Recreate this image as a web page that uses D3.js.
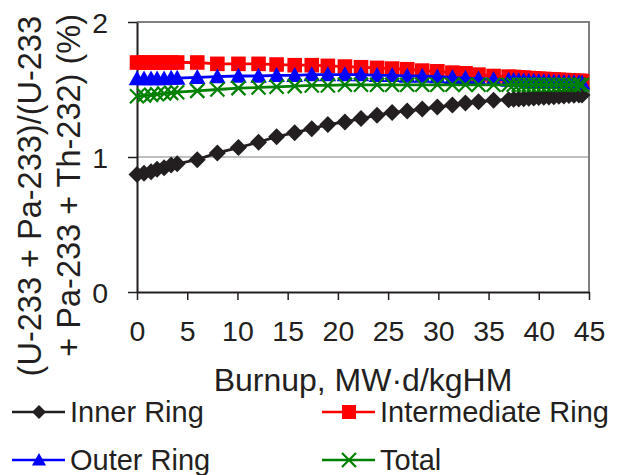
<!DOCTYPE html>
<html><head><meta charset="utf-8">
<script src="https://cdn.jsdelivr.net/npm/d3@7/dist/d3.min.js"></script>
<style>body{margin:0;background:#fff}svg{display:block}text{font-family:"Liberation Sans",Arial,sans-serif;fill:#231f20}</style>
</head><body><svg id="c" width="617" height="475"></svg>
<script>
const burnup = [0,0.7,1.4,2.0,2.7,3.4,4.0,6,8,10.1,12.1,13.9,15.7,17.4,19.0,20.7,22.3,23.9,25.4,26.9,28.4,29.9,31.4,32.7,34.0,35.5,
  37,37.5,38,38.5,39,39.5,40,40.5,41,41.5,42,42.5,43,43.5,44,44.3];
const innerRing = [0.87,0.88,0.89,0.91,0.92,0.94,0.95,0.98,1.03,1.07,1.11,1.15,1.18,1.21,1.24,1.26,1.285,1.31,1.33,1.34,1.355,1.37,1.385,1.40,1.41,1.42,
  1.425,1.427,1.43,1.432,1.435,1.437,1.44,1.442,1.445,1.447,1.45,1.452,1.455,1.457,1.46,1.46];
const intermediateRing = [1.70,1.70,1.70,1.70,1.70,1.70,1.70,1.70,1.69,1.69,1.69,1.685,1.68,1.68,1.675,1.67,1.665,1.66,1.655,1.65,1.64,1.635,1.625,1.62,1.61,1.60,
  1.595,1.593,1.59,1.588,1.585,1.583,1.58,1.578,1.576,1.574,1.572,1.57,1.568,1.566,1.564,1.563];
const outerRing = [1.58,1.58,1.58,1.58,1.58,1.585,1.585,1.59,1.595,1.60,1.60,1.605,1.605,1.61,1.61,1.61,1.61,1.605,1.605,1.60,1.60,1.595,1.59,1.585,1.58,1.575,
  1.57,1.568,1.566,1.565,1.563,1.562,1.56,1.558,1.557,1.556,1.555,1.554,1.553,1.552,1.551,1.55];
const totalRing = [1.45,1.455,1.46,1.465,1.47,1.475,1.48,1.49,1.50,1.51,1.515,1.52,1.525,1.53,1.53,1.535,1.535,1.535,1.535,1.535,1.535,1.535,1.535,1.535,1.535,1.535,
  1.535,1.535,1.535,1.535,1.535,1.535,1.535,1.535,1.535,1.535,1.535,1.535,1.535,1.535,1.535,1.535];
const xTicks = [0,5,10,15,20,25,30,35,40,45];
const yTicks = [0,1,2];
const seriesNames = ["Inner Ring","Intermediate Ring","Outer Ring","Total"];
const seriesColors = ["#231f20","#ff0000","#0000ff","#008000"];
const seriesSymbols = ["diamond","square","triangle","cross"];
const seriesData = [innerRing, intermediateRing, outerRing, totalRing];

const svg = d3.select("#c");
const x = d3.scaleLinear().domain([0,45]).range([137,589]);
const y = d3.scaleLinear().domain([0,2]).range([292,22]);

// frame and gridline
svg.append("line").attr("x1",x(0)).attr("x2",x(45)).attr("y1",y(1)).attr("y2",y(1)).attr("stroke","#808080").attr("stroke-width",1.2);
svg.append("line").attr("x1",x(0)).attr("x2",x(45)+1).attr("y1",y(2)).attr("y2",y(2)).attr("stroke","#808080").attr("stroke-width",2);
svg.append("line").attr("x1",x(45)).attr("x2",x(45)).attr("y1",y(2)).attr("y2",y(0)).attr("stroke","#808080").attr("stroke-width",2);

// axes
const xAxis = svg.append("g").attr("transform",`translate(0,${y(0)})`)
  .call(d3.axisBottom(x).tickValues(xTicks).tickSize(8).tickPadding(20).tickSizeOuter(0).tickFormat(d3.format("d")));
const yAxis = svg.append("g").attr("transform",`translate(${x(0)},0)`)
  .call(d3.axisLeft(y).tickValues(yTicks).tickSize(9).tickPadding(20).tickSizeOuter(0).tickFormat(d3.format("d")));
[xAxis,yAxis].forEach(a=>{
  a.select(".domain").attr("stroke","#231f20").attr("stroke-width",2);
  a.selectAll(".tick line").attr("stroke","#231f20").attr("stroke-width",1.5);
  a.selectAll(".tick text").attr("font-size",28.5).attr("fill","#231f20").attr("font-family","Liberation Sans, Arial, sans-serif");
});
xAxis.selectAll(".tick text").attr("dy","0.75em");
yAxis.selectAll(".tick text").attr("dy","0.36em");

// axis titles
svg.append("text").attr("x",363).attr("y",391).attr("text-anchor","middle").attr("font-size",32).text("Burnup, MW·d/kgHM");
const yt = svg.append("text").attr("transform","translate(41,16) rotate(-90)").attr("text-anchor","end").attr("font-size",32.5);
yt.append("tspan").attr("x",0).attr("y",0).text("(U-233 + Pa-233)/(U-233");
yt.append("tspan").attr("x",2).attr("y",39).text("+ Pa-233 + Th-232) (%)");

// marker shapes (r = half extent)
const shapes = {
  diamond:{draw(c,r){c.moveTo(0,-r);c.lineTo(r,0);c.lineTo(0,r);c.lineTo(-r,0);c.closePath();}},
  square:{draw(c,r){c.rect(-r,-r,2*r,2*r);}},
  triangle:{draw(c,r){c.moveTo(0,-r);c.lineTo(r,r*0.8);c.lineTo(-r,r*0.8);c.closePath();}},
  cross:{draw(c,r){c.moveTo(-r,-r);c.lineTo(r,r);c.moveTo(-r,r);c.lineTo(r,-r);}}
};
function drawMarker(g, sym, color, cx, cy, r){
  const p = g.append("path").attr("d",d3.symbol().type(shapes[sym]).size(r)()).attr("transform",`translate(${cx},${cy})`);
  if(sym==="cross") p.attr("stroke",color).attr("stroke-width",2.2).attr("fill","none");
  else p.attr("fill",color);
}
const markerR = {diamond:8.5, square:7.3, triangle:8.3, cross:7};

const line = d3.line().x(d=>x(d[0])).y(d=>y(d[1]));
seriesData.forEach((vals,i)=>{
  const pts = burnup.map((b,j)=>[b,vals[j]]);
  const g = svg.append("g");
  g.append("path").datum(pts).attr("d",line).attr("fill","none").attr("stroke",seriesColors[i]).attr("stroke-width",2.8);
  pts.forEach(p=>drawMarker(g, seriesSymbols[i], seriesColors[i], x(p[0]), y(p[1]), markerR[seriesSymbols[i]]));
});

// legend
const legPos = [[12,412],[322,412],[12,460],[322,460]];
seriesNames.forEach((n,i)=>{
  const [lx,ly]=legPos[i];
  const g = svg.append("g");
  g.append("line").attr("x1",lx).attr("x2",lx+53).attr("y1",ly).attr("y2",ly).attr("stroke",seriesColors[i]).attr("stroke-width",2.5);
  drawMarker(g, seriesSymbols[i], seriesColors[i], lx+27, ly, 7);
  g.append("text").attr("x",lx+58).attr("y",ly+10).attr("font-size",29).text(n);
});
</script></body></html>
